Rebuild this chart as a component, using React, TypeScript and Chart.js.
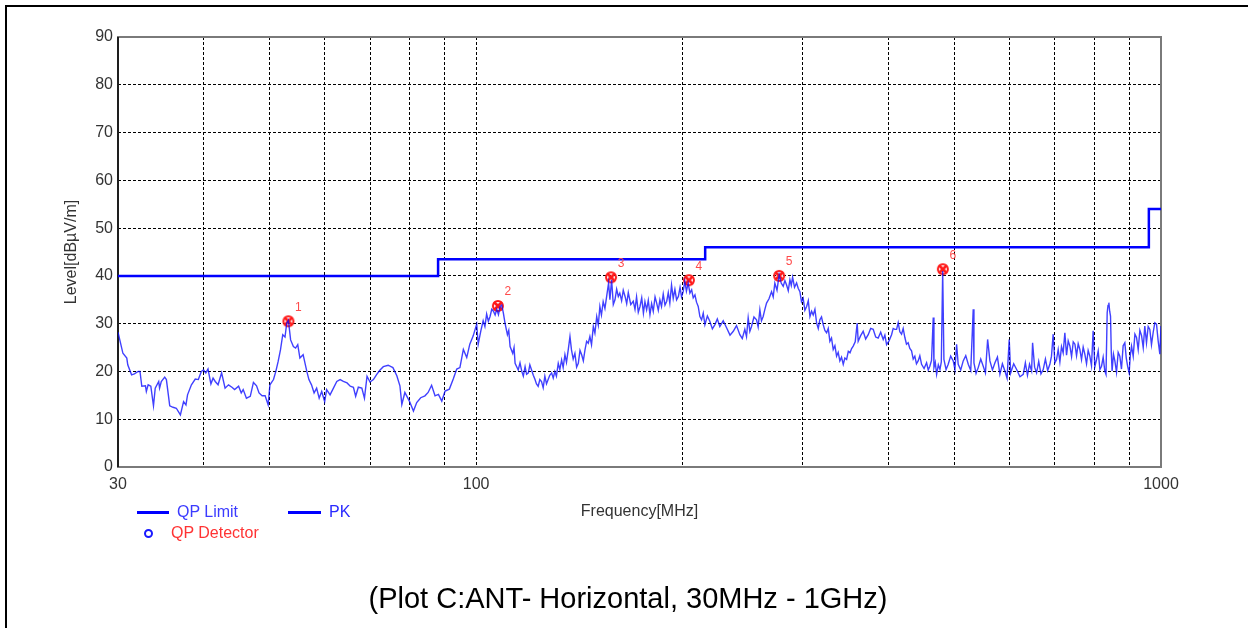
import React, { useEffect, useRef } from 'react';
import { Chart, registerables } from 'chart.js';

Chart.register(...registerables);

// ---------------- DATA ----------------
const limitFreq = [30, 88, 88, 216, 216, 960, 960, 1000];
const limitLevel = [40, 40, 43.5, 43.5, 46, 46, 54, 54];

// PK trace as [frequency MHz, level dBµV/m]
const pkPoints: [number, number][] = [
  [30.0, 28.2], [30.5, 23.8], [30.9, 22.8], [31.0, 21.4], [31.4, 19.3], [31.7, 19.5], [32.1, 20.0], [32.3, 20.0],
  [32.5, 16.9], [32.9, 17.0], [33.0, 15.8], [33.2, 17.2], [33.5, 16.9], [33.8, 12.8], [34.0, 16.5], [34.4, 17.9],
  [34.5, 16.5], [34.7, 17.9], [35.1, 18.8], [35.3, 18.3], [35.7, 12.8], [36.1, 12.5], [36.5, 12.3], [37.0, 10.9],
  [37.4, 13.7], [37.7, 13.0], [37.9, 15.1], [38.4, 17.2], [38.9, 18.4], [39.3, 18.3], [39.7, 20.0], [40.0, 20.3],
  [40.3, 19.7], [40.6, 20.5], [41.0, 17.4], [41.3, 18.6], [41.6, 17.9], [42.0, 17.2], [42.5, 19.7], [43.0, 16.5],
  [43.5, 17.2], [44.0, 16.7], [44.4, 16.2], [45.0, 16.9], [45.4, 15.5], [45.7, 16.2], [46.2, 14.4], [46.8, 14.8],
  [47.3, 17.7], [47.8, 17.0], [48.2, 15.5], [48.7, 14.9], [49.2, 14.9], [49.7, 13.0], [50.0, 17.2], [50.6, 18.3],
  [51.0, 20.0], [51.4, 22.1], [51.8, 24.5], [52.2, 27.7], [52.6, 27.2], [52.9, 30.1], [53.2, 30.7], [53.6, 26.6],
  [54.1, 25.2], [54.5, 24.9], [54.9, 25.6], [55.3, 22.8], [55.9, 23.5], [56.6, 20.0], [57.0, 18.3], [57.5, 17.2],
  [58.0, 15.5], [58.5, 16.5], [59.0, 14.4], [59.5, 15.8], [60.1, 13.7], [60.5, 16.2], [61.2, 15.1], [61.9, 16.5],
  [62.6, 17.9], [63.3, 18.3], [64.0, 17.9], [64.8, 17.6], [65.5, 16.9], [66.2, 16.7], [66.7, 14.8], [67.3, 16.7],
  [68.1, 16.5], [68.7, 14.4], [69.3, 19.0], [70.0, 17.8], [70.8, 18.3], [71.6, 19.4], [72.4, 20.3], [73.2, 21.0],
  [74.4, 21.3], [75.6, 20.8], [76.6, 19.1], [77.4, 17.0], [77.9, 13.1], [78.7, 15.6], [79.9, 13.8], [81.0, 11.7],
  [81.9, 13.5], [83.0, 14.5], [84.2, 14.9], [85.1, 15.6], [86.1, 17.1], [87.1, 14.9], [88.1, 15.2], [89.1, 13.8],
  [90.1, 15.9], [91.4, 16.3], [92.6, 18.4], [93.7, 20.5], [94.7, 20.8], [95.8, 24.6], [96.9, 22.9], [97.9, 25.7],
  [99.0, 27.4], [100.2, 29.9], [100.7, 25.7], [101.6, 28.5], [102.4, 30.6], [103.0, 29.4], [103.6, 32.0], [104.2, 30.5],
  [104.8, 31.5], [105.4, 33.0], [106.0, 32.6], [106.6, 31.8], [107.2, 33.0], [107.8, 31.9], [108.4, 33.6], [109.0, 33.9],
  [109.6, 32.2], [110.2, 30.1], [111.1, 27.7], [111.6, 28.6], [112.1, 25.2], [113.1, 23.8], [113.6, 25.0], [114.0, 21.7],
  [115.2, 20.3], [115.9, 21.8], [116.6, 20.0], [117.2, 19.0], [117.9, 21.0], [118.5, 19.4], [119.2, 19.7], [119.8, 21.4],
  [120.5, 20.3], [121.2, 19.2], [121.9, 18.3], [122.5, 17.4], [123.2, 16.9], [123.9, 18.3], [124.6, 17.9], [125.3, 16.6],
  [126.0, 19.0], [126.7, 17.4], [127.4, 18.3], [128.1, 19.2], [128.9, 19.7], [129.6, 18.6], [130.3, 20.0], [131.0, 19.0],
  [131.8, 21.7], [132.5, 20.4], [133.3, 22.4], [134.0, 20.8], [134.8, 23.5], [135.5, 21.9], [136.3, 24.5], [137.1, 27.3],
  [137.8, 24.5], [138.6, 22.6], [139.4, 23.8], [140.2, 20.9], [141.0, 21.7], [141.8, 24.4], [142.6, 23.5], [143.4, 22.2],
  [144.2, 24.5], [145.0, 26.3], [145.8, 25.9], [146.6, 27.3], [147.4, 25.6], [148.3, 29.4], [149.1, 28.0], [150.0, 31.5],
  [150.8, 29.7], [151.6, 33.6], [152.4, 31.8], [153.3, 34.6], [154.2, 33.2], [155.1, 35.7], [156.1, 38.5], [156.8, 35.0],
  [157.7, 39.2], [158.6, 34.0], [159.5, 35.0], [160.4, 37.2], [161.3, 35.7], [162.1, 36.4], [163.1, 34.8], [164.0, 37.0],
  [165.0, 35.7], [165.9, 34.2], [166.8, 36.5], [168.2, 34.0], [169.6, 34.7], [170.6, 33.0], [171.5, 35.6], [172.5, 32.4],
  [173.5, 33.6], [174.5, 35.4], [175.5, 32.2], [176.4, 34.6], [177.4, 32.9], [178.4, 34.9], [179.4, 31.9], [180.4, 34.2],
  [181.4, 32.6], [182.5, 35.6], [183.5, 34.3], [184.5, 32.8], [185.5, 35.0], [186.5, 33.6], [187.6, 36.2], [188.7, 33.9],
  [189.8, 34.7], [190.8, 36.5], [191.8, 34.3], [192.9, 38.1], [194.0, 35.3], [195.1, 37.2], [196.2, 35.0], [197.4, 35.7],
  [198.5, 37.6], [199.5, 35.6], [200.6, 36.7], [201.7, 38.9], [202.8, 36.8], [204.0, 38.5], [205.2, 36.4], [206.4, 37.1],
  [207.5, 35.4], [208.7, 36.0], [209.8, 34.5], [211.0, 33.6], [212.2, 31.5], [213.4, 30.8], [214.6, 32.2], [215.8, 29.8],
  [217.6, 31.6], [219.4, 30.5], [221.3, 28.9], [223.2, 29.8], [225.0, 31.0], [226.9, 29.4], [229.5, 30.6], [232.2, 29.1],
  [234.8, 27.6], [237.4, 28.4], [240.0, 29.6], [242.7, 27.7], [244.7, 26.9], [246.8, 28.8], [248.2, 27.3], [249.6, 31.2],
  [251.0, 28.4], [252.4, 29.4], [254.5, 31.4], [256.7, 30.8], [258.1, 29.3], [259.6, 32.9], [261.0, 30.6], [262.5, 31.5],
  [264.0, 33.0], [265.5, 34.3], [267.7, 35.2], [270.0, 36.7], [271.5, 35.6], [273.0, 38.5], [275.0, 37.0], [277.0, 40.2],
  [278.9, 38.5], [280.8, 37.8], [282.4, 39.0], [284.0, 38.1], [285.6, 36.9], [287.2, 39.2], [288.5, 38.0], [289.8, 39.7],
  [291.7, 37.6], [293.7, 38.5], [295.3, 37.4], [297.0, 36.7], [298.6, 34.6], [300.3, 35.3], [302.0, 32.8], [303.8, 33.6],
  [305.5, 34.8], [307.2, 31.5], [308.9, 32.6], [310.6, 31.8], [312.4, 33.0], [314.2, 30.1], [315.9, 29.0], [317.6, 30.8],
  [319.4, 31.4], [321.2, 29.8], [323.0, 28.6], [324.9, 28.1], [326.7, 29.0], [328.5, 26.3], [330.3, 27.0], [332.2, 24.6],
  [334.1, 25.4], [336.0, 23.2], [337.8, 24.0], [339.7, 22.2], [341.6, 23.0], [343.6, 21.5], [345.5, 22.8], [347.5, 22.5],
  [349.5, 24.2], [351.5, 23.9], [353.4, 24.8], [355.3, 25.3], [357.7, 26.2], [360.1, 30.1], [361.3, 26.3], [364.3, 27.5],
  [367.4, 28.4], [370.5, 26.8], [373.7, 27.7], [376.8, 29.0], [380.0, 28.8], [383.2, 27.2], [386.4, 27.0], [389.7, 28.2],
  [393.0, 26.7], [395.2, 27.6], [397.5, 25.6], [400.8, 26.4], [404.2, 27.7], [406.4, 29.0], [408.7, 28.8], [411.1, 28.8],
  [413.3, 30.2], [415.6, 28.3], [418.0, 27.8], [420.3, 29.0], [422.7, 27.1], [425.0, 25.7], [427.4, 26.0], [429.8, 24.8],
  [432.3, 24.3], [434.7, 22.6], [437.1, 23.2], [439.5, 21.6], [442.0, 22.2], [444.5, 23.3], [447.1, 21.5], [450.9, 20.6],
  [454.7, 21.8], [457.2, 20.3], [459.7, 21.1], [462.3, 22.3], [465.0, 31.3], [466.1, 20.8], [468.2, 21.9], [470.3, 19.4],
  [473.0, 21.4], [475.6, 20.4], [477.8, 22.0], [480.0, 41.0], [482.0, 22.5], [485.5, 20.4], [489.0, 21.5], [493.1, 23.2],
  [497.3, 22.2], [500.2, 20.4], [503.0, 25.7], [505.7, 21.5], [510.0, 20.3], [514.3, 22.2], [518.7, 23.3], [523.1, 21.5],
  [527.5, 20.2], [531.9, 33.0], [533.2, 21.8], [537.0, 19.6], [540.9, 20.8], [545.5, 22.6], [550.1, 21.1], [554.2, 19.7],
  [558.3, 26.7], [562.6, 22.2], [567.4, 20.3], [572.2, 21.8], [577.0, 23.0], [581.8, 19.4], [586.7, 21.6], [591.7, 20.1],
  [596.0, 18.6], [600.3, 26.7], [603.3, 19.7], [609.4, 21.6], [615.5, 20.4], [622.4, 18.9], [629.3, 19.4], [633.8, 21.8],
  [638.3, 19.2], [642.7, 21.5], [647.2, 20.1], [649.4, 26.0], [653.8, 20.9], [658.2, 19.7], [662.9, 22.1], [667.9, 19.5],
  [673.0, 20.4], [678.0, 22.6], [683.1, 20.2], [688.2, 21.5], [692.0, 23.2], [695.9, 27.8], [699.9, 21.8], [703.9, 22.5],
  [707.8, 24.6], [711.8, 22.0], [715.7, 25.2], [719.7, 23.9], [723.8, 28.1], [727.9, 23.4], [732.0, 26.4], [736.2, 25.3],
  [740.3, 23.1], [744.5, 26.2], [748.7, 25.7], [752.8, 23.3], [757.0, 25.8], [761.2, 24.6], [765.5, 22.5], [769.8, 25.1],
  [774.1, 23.6], [778.5, 21.6], [782.8, 24.4], [787.2, 23.2], [791.6, 21.2], [796.0, 28.5], [800.6, 21.0], [805.2, 22.5],
  [809.7, 24.3], [814.3, 20.4], [818.8, 21.1], [823.3, 23.0], [827.9, 20.1], [831.2, 19.4], [834.5, 32.3], [836.8, 33.8],
  [839.2, 34.4], [841.5, 32.6], [843.9, 31.6], [846.1, 24.0], [848.4, 20.1], [852.3, 23.6], [856.3, 22.2], [861.1, 19.8],
  [865.9, 24.0], [870.7, 23.2], [875.6, 20.5], [880.5, 25.4], [885.5, 26.0], [889.8, 22.8], [894.1, 21.0], [898.4, 19.7],
  [902.0, 23.4], [905.7, 25.3], [910.8, 23.2], [916.0, 27.8], [921.0, 27.1], [926.2, 24.6], [931.4, 28.6], [936.7, 27.5],
  [942.0, 25.0], [947.0, 29.5], [952.4, 26.0], [957.8, 29.4], [963.1, 28.8], [968.5, 25.6], [973.9, 28.1], [979.4, 30.2],
  [985.0, 29.9], [990.5, 26.4], [996.1, 23.6], [1000, 29.5],
];

const qpFreq = [53.2, 107.6, 157.4, 204.5, 277.0, 480.3];
const qpLevel = [30.5, 33.7, 39.7, 39.1, 40.0, 41.4];
const qpLabels = ['1', '2', '3', '4', '5', '6'];

const gridFreq = [30, 40, 50, 60, 70, 80, 90, 100, 200, 300, 400, 500, 600, 700, 800, 900, 1000];
const xTickLabels = ['30', '100', '1000'];

const FONT = '"Liberation Sans", Arial, sans-serif';

function makeMarker(): HTMLCanvasElement {
  const c = document.createElement('canvas');
  c.width = 14;
  c.height = 14;
  const g = c.getContext('2d')!;
  g.strokeStyle = '#ff1a1a';
  g.lineWidth = 2.8;
  g.beginPath();
  g.moveTo(3, 3);
  g.lineTo(11, 11);
  g.moveTo(11, 3);
  g.lineTo(3, 11);
  g.stroke();
  g.lineWidth = 2;
  g.beginPath();
  g.arc(7, 7, 5, 0, Math.PI * 2);
  g.stroke();
  return c;
}

const framePlugin = {
  id: 'frame',
  beforeDatasetsDraw(chart: any) {
    const { ctx, chartArea: a } = chart;
    ctx.save();
    ctx.strokeStyle = '#7a7a7a';
    ctx.lineWidth = 2;
    ctx.strokeRect(a.left, a.top, a.right - a.left, a.bottom - a.top);
    ctx.strokeStyle = '#000';
    ctx.lineWidth = 1.5;
    ctx.beginPath();
    ctx.moveTo(a.left, a.top);
    ctx.lineTo(a.left, a.bottom);
    ctx.stroke();
    ctx.restore();
  },
};

const markerLabelPlugin = {
  id: 'markerLabels',
  afterDatasetsDraw(chart: any) {
    const { ctx } = chart;
    const meta = chart.getDatasetMeta(2);
    ctx.save();
    ctx.fillStyle = '#ff4a4a';
    ctx.font = `12px ${FONT}`;
    ctx.textAlign = 'center';
    ctx.textBaseline = 'middle';
    meta.data.forEach((pt: any, i: number) => {
      ctx.fillText(qpLabels[i], pt.x + 10, pt.y - 14);
    });
    ctx.restore();
  },
};

export default function App() {
  const ref = useRef<HTMLCanvasElement | null>(null);

  useEffect(() => {
    if (!ref.current) return;
    Chart.defaults.font.family = FONT;
    const marker = makeMarker();
    const chart = new Chart(ref.current, {
      type: 'line',
      data: {
        datasets: [
          {
            label: 'QP Limit',
            data: limitFreq.map((f, i) => ({ x: f, y: limitLevel[i] })),
            borderColor: '#0000ff',
            borderWidth: 2.5,
            pointRadius: 0,
            tension: 0,
          },
          {
            label: 'PK',
            data: pkPoints.map(([f, v]) => ({ x: f, y: v })),
            borderColor: 'rgba(10,10,255,0.78)',
            borderWidth: 1.4,
            pointRadius: 0,
            tension: 0,
          },
          {
            label: 'QP Detector',
            data: qpFreq.map((f, i) => ({ x: f, y: qpLevel[i] })),
            showLine: false,
            pointStyle: marker as any,
            pointRadius: 7,
            borderColor: '#ff1a1a',
            backgroundColor: '#ff1a1a',
          },
        ],
      },
      options: {
        animation: false,
        responsive: false,
        events: [],
        layout: { padding: { left: 58, right: 87, top: 37, bottom: 103 } },
        plugins: { legend: { display: false }, tooltip: { enabled: false } },
        scales: {
          x: {
            type: 'logarithmic',
            position: 'bottom',
            min: 30,
            max: 1000,
            afterBuildTicks: (s: any) => {
              s.ticks = gridFreq.map((v) => ({ value: v }));
            },
            afterFit: (s: any) => {
              s.height = 58;
            },
            ticks: {
              autoSkip: false,
              maxRotation: 0,
              padding: 8,
              color: '#333',
              font: { size: 16 },
              callback: (v: any) => (xTickLabels.includes(String(v)) ? String(v) : ''),
            },
            grid: { color: '#000', lineWidth: 1, drawTicks: false },
            border: { display: false, dash: [3, 2] },
            title: {
              display: true,
              text: 'Frequency[MHz]',
              color: '#333',
              font: { size: 16 },
              padding: { top: 4, bottom: 4 },
            },
          },
          y: {
            type: 'linear',
            min: 0,
            max: 90,
            afterFit: (s: any) => {
              s.width = 60;
            },
            ticks: { stepSize: 10, padding: 5, color: '#333', font: { size: 16 } },
            grid: { color: '#000', lineWidth: 1, drawTicks: false },
            border: { display: false, dash: [3, 2] },
            title: {
              display: true,
              text: 'Level[dBµV/m]',
              color: '#333',
              font: { size: 16 },
              padding: { top: 4, bottom: 4 },
            },
          },
        },
      },
      plugins: [framePlugin, markerLabelPlugin],
    } as any);
    return () => chart.destroy();
  }, []);

  const legendText: React.CSSProperties = {
    position: 'absolute',
    fontFamily: FONT,
    fontSize: 16,
    lineHeight: '18px',
    whiteSpace: 'nowrap',
  };

  return (
    <div
      style={{
        position: 'absolute',
        left: 0,
        top: 0,
        width: 1248,
        height: 628,
        overflow: 'hidden',
        background: '#fff',
      }}
    >
      <div
        style={{
          position: 'absolute',
          left: 5,
          top: 5,
          width: 1400,
          height: 800,
          borderTop: '2px solid #000',
          borderLeft: '2px solid #000',
        }}
      />
      <canvas
        ref={ref}
        width={1248}
        height={628}
        style={{ position: 'absolute', left: 0, top: 0, width: 1248, height: 628 }}
      />
      <div style={{ position: 'absolute', left: 137, top: 511, width: 32, height: 2.5, background: '#0000ff' }} />
      <div style={{ ...legendText, left: 177, top: 503, color: '#3b3bff' }}>QP Limit</div>
      <div style={{ position: 'absolute', left: 288, top: 511, width: 33, height: 2.5, background: '#0000ff' }} />
      <div style={{ ...legendText, left: 329, top: 503, color: '#2a2aff' }}>PK</div>
      <div
        style={{
          position: 'absolute',
          left: 144,
          top: 529,
          width: 5,
          height: 5,
          borderRadius: '50%',
          border: '2px solid #1a1aff',
        }}
      />
      <div style={{ ...legendText, left: 171, top: 524, color: '#ff3333' }}>QP Detector</div>
      <div
        style={{
          position: 'absolute',
          left: 0,
          width: 1256,
          top: 581,
          height: 34,
          lineHeight: '34px',
          textAlign: 'center',
          fontFamily: FONT,
          fontSize: 29,
          color: '#000',
          whiteSpace: 'nowrap',
        }}
      >
        (Plot C:ANT- Horizontal, 30MHz - 1GHz)
      </div>
    </div>
  );
}
